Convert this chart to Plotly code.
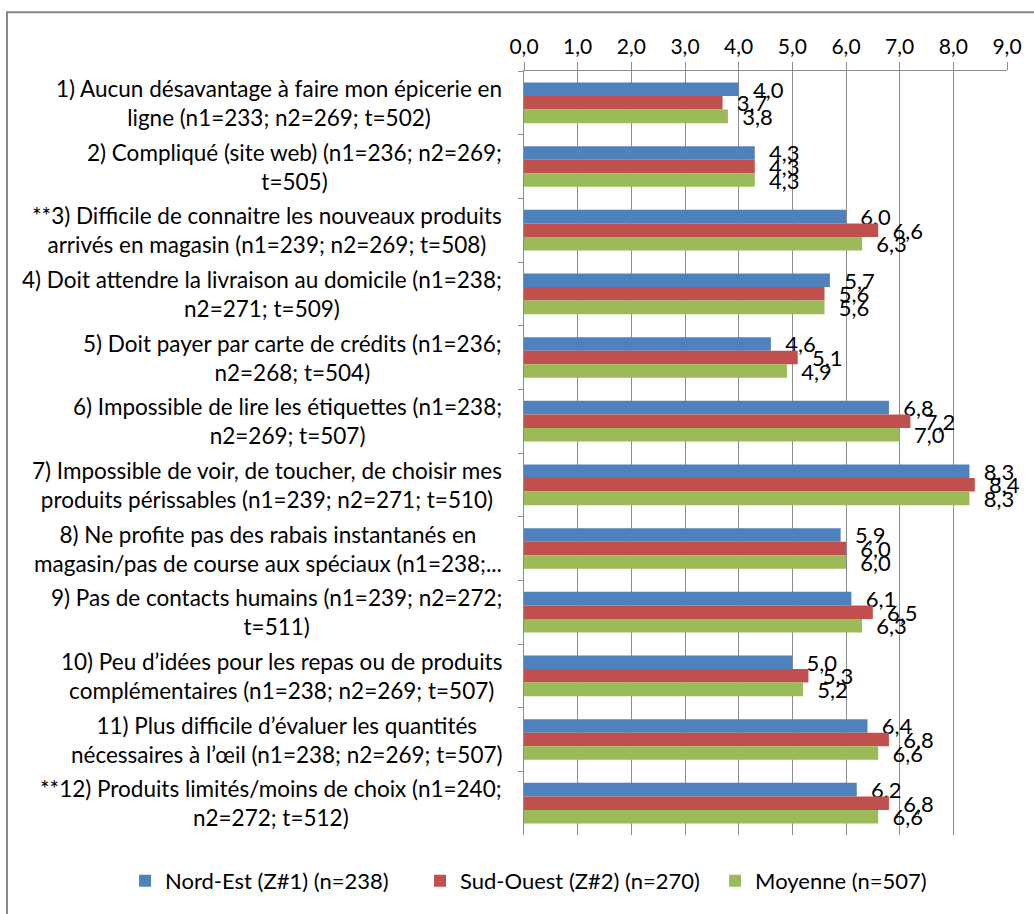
import plotly.graph_objects as go

categories = [
    "1) Aucun désavantage à faire mon épicerie en<br>ligne (n1=233; n2=269; t=502)",
    "2) Compliqué (site web) (n1=236; n2=269;<br>t=505)",
    "**3) Difficile de connaitre les nouveaux produits<br>arrivés en magasin (n1=239; n2=269; t=508)",
    "4) Doit attendre la livraison au domicile (n1=238;<br>n2=271; t=509)",
    "5) Doit payer par carte de crédits (n1=236;<br>n2=268; t=504)",
    "6) Impossible de lire les étiquettes (n1=238;<br>n2=269; t=507)",
    "7) Impossible de voir, de toucher, de choisir mes<br>produits périssables (n1=239; n2=271; t=510)",
    "8) Ne profite pas des rabais instantanés en<br>magasin/pas de course aux spéciaux (n1=238;...",
    "9) Pas de contacts humains (n1=239; n2=272;<br>t=511)",
    "10) Peu d’idées pour les repas ou de produits<br>complémentaires (n1=238; n2=269; t=507)",
    "11) Plus difficile d’évaluer les quantités<br>nécessaires à l’œil (n1=238; n2=269; t=507)",
    "**12) Produits limités/moins de choix (n1=240;<br>n2=272; t=512)",
]

nord_est = [4.0, 4.3, 6.0, 5.7, 4.6, 6.8, 8.3, 5.9, 6.1, 5.0, 6.4, 6.2]
sud_ouest = [3.7, 4.3, 6.6, 5.6, 5.1, 7.2, 8.4, 6.0, 6.5, 5.3, 6.8, 6.8]
moyenne = [3.8, 4.3, 6.3, 5.6, 4.9, 7.0, 8.3, 6.0, 6.3, 5.2, 6.6, 6.6]

series_names = ["Nord-Est (Z#1) (n=238)", "Sud-Ouest (Z#2) (n=270)", "Moyenne (n=507)"]
series_values = [nord_est, sud_ouest, moyenne]
series_colors = ["#4F81BD", "#C0504D", "#9BBB59"]

x_ticks = [0, 1, 2, 3, 4, 5, 6, 7, 8, 9]

FONT = "Lato, Calibri, sans-serif"
GRID = "#8C8C8C"

fig = go.Figure()
for name, vals, color in zip(series_names, series_values, series_colors):
    fig.add_trace(go.Bar(
        y=categories,
        x=vals,
        name=name,
        orientation="h",
        marker=dict(color=color, line=dict(width=0)),
        texttemplate="  %{x:.1f}",
        textposition="outside",
        constraintext="none",
        cliponaxis=False,
        outsidetextfont=dict(family=FONT, size=22, color="#000000"),
        hoverinfo="skip",
    ))

# category labels drawn as centred two-line blocks to the left of the axis
for cat in categories:
    fig.add_annotation(
        x=0, xref="paper", y=cat, yref="y",
        text=cat, showarrow=False,
        xanchor="right", yanchor="middle", align="center",
        xshift=-20,
        font=dict(family=FONT, size=22.5, color="#000000"),
    )

# outer frame of the chart
fig.add_shape(
    type="rect", xref="paper", yref="paper",
    x0=-1.0704, x1=1.068, y0=-0.105, y1=1.0768,
    line=dict(color="#868686", width=2), fillcolor="rgba(0,0,0,0)",
    layer="below",
)

fig.update_layout(
    width=1034, height=914,
    margin=dict(l=524, r=27, t=71, b=75),
    paper_bgcolor="white", plot_bgcolor="white",
    barmode="group", bargap=0.36, bargroupgap=0,
    separators=", ",
    font=dict(family=FONT, size=21, color="#000000"),
    showlegend=True,
    legend=dict(
        orientation="h",
        x=-0.826, xanchor="left",
        y=-0.06, yanchor="middle",
        font=dict(family=FONT, size=22, color="#000000"),
        entrywidth=250, entrywidthmode="pixels",
        bgcolor="rgba(0,0,0,0)",
    ),
    xaxis=dict(
        side="top", range=[0, 9], tickvals=x_ticks, tickformat=".1f",
        showgrid=True, gridcolor=GRID, gridwidth=1,
        showline=True, linecolor=GRID, linewidth=1,
        ticks="outside", ticklen=8, tickcolor=GRID,
        tickfont=dict(family=FONT, size=21, color="#000000"),
        zeroline=False, fixedrange=True,
    ),
    yaxis=dict(
        type="category", autorange="reversed",
        showticklabels=False, showgrid=False,
        showline=True, linecolor=GRID, linewidth=1,
        ticks="outside", ticklen=5, tickcolor=GRID, tickson="boundaries",
        zeroline=False, fixedrange=True,
    ),
)

fig.write_html("out.html")
